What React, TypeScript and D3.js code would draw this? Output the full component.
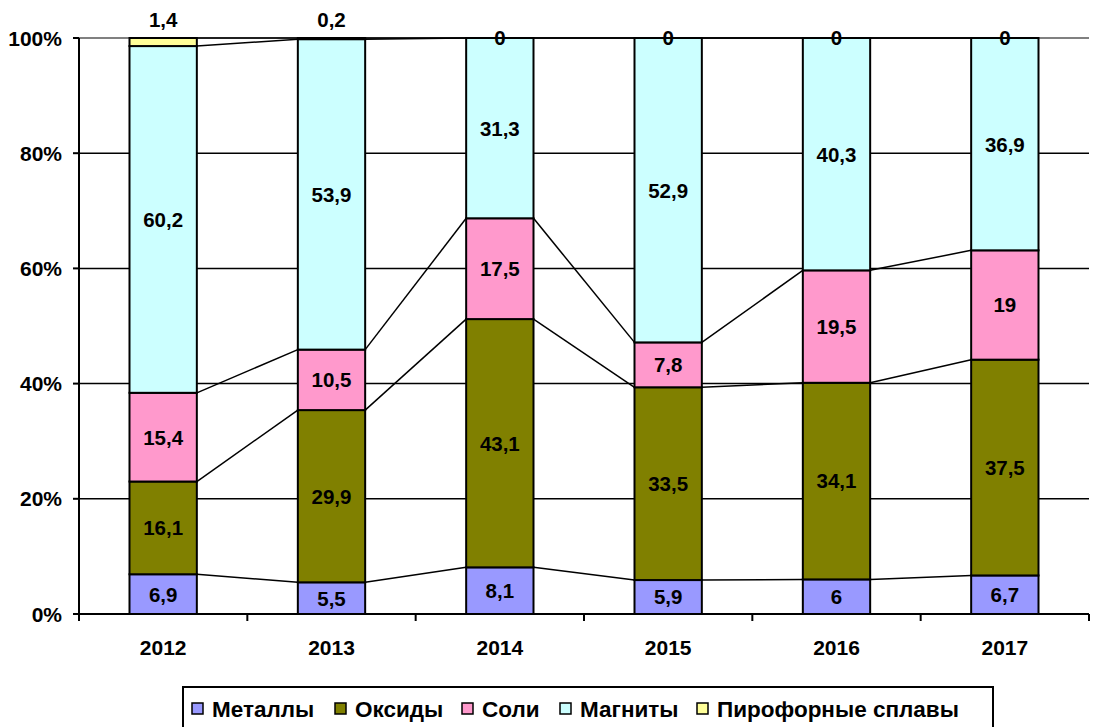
import * as d3 from "d3";

const years = ["2012", "2013", "2014", "2015", "2016", "2017"];
const seriesNames = ["Металлы", "Оксиды", "Соли", "Магниты", "Пирофорные сплавы"];
const colors = ["#9999FF", "#808000", "#FF99CC", "#CCFFFF", "#FFFF99"];
const metals = [6.9, 5.5, 8.1, 5.9, 6, 6.7];
const oxides = [16.1, 29.9, 43.1, 33.5, 34.1, 37.5];
const salts = [15.4, 10.5, 17.5, 7.8, 19.5, 19];
const magnets = [60.2, 53.9, 31.3, 52.9, 40.3, 36.9];
const pyro = [1.4, 0.2, 0, 0, 0, 0];
const yTicks = [0, 0.2, 0.4, 0.6, 0.8, 1];

const fmt = (v: number) => String(v).replace(".", ",");

export default function App() {
  const width = 1095;
  const height = 727;
  const left = 79;
  const right = 1089;
  const top = 38;
  const bottom = 614;

  const series = [metals, oxides, salts, magnets, pyro];

  // normalized stacks (100%)
  const stacks = years.map((_, i) => {
    const total = d3.sum(series, (s) => s[i]);
    let acc = 0;
    return series.map((s) => {
      const y0 = acc / total;
      acc += s[i];
      return { y0, y1: acc / total, v: s[i] };
    });
  });

  const x = d3.scaleBand().domain(years).range([left, right]).paddingInner(0.6).paddingOuter(0.3);
  const band = d3.scaleBand().domain(years).range([left, right]);
  const y = d3.scaleLinear().domain([0, 1]).range([bottom, top]);
  const bw = x.bandwidth();

  const font = "'Liberation Sans', Arial, sans-serif";

  // legend marker positions
  const legendX = [192, 335, 462, 560, 697];

  return (
    <svg width={width} height={height} style={{ position: "absolute", left: 0, top: 0 }} fontFamily={font}>
      <rect width={width} height={height} fill="#fff" />
      {/* gridlines */}
      {yTicks.map((t) => (
        <line
          key={t}
          x1={left}
          x2={right}
          y1={y(t)}
          y2={y(t)}
          stroke={t === 1 ? "#808080" : "#000"}
          strokeWidth={t === 1 ? 2 : 1.5}
        />
      ))}
      {/* series lines */}
      {years.slice(0, -1).map((yr, i) =>
        series.map((_, k) => (
          <line
            key={yr + k}
            x1={x(yr)! + bw}
            x2={x(years[i + 1])!}
            y1={y(stacks[i][k].y1)}
            y2={y(stacks[i + 1][k].y1)}
            stroke="#000"
            strokeWidth={1.5}
          />
        ))
      )}
      {/* bars */}
      {years.map((yr, i) =>
        stacks[i].map((s, k) =>
          s.v > 0 ? (
            <rect
              key={yr + k}
              x={x(yr)}
              y={y(s.y1)}
              width={bw}
              height={y(s.y0) - y(s.y1)}
              fill={colors[k]}
              stroke="#000"
              strokeWidth={2}
            />
          ) : null
        )
      )}
      {/* labels */}
      {years.map((yr, i) =>
        stacks[i].map((s, k) => {
          const cx = x(yr)! + bw / 2;
          let cy = y((s.y0 + s.y1) / 2);
          if (k === 4 && s.v > 0) cy = 20;
          return (
            <text
              key={yr + "l" + k}
              x={cx}
              y={cy}
              dy="0.36em"
              textAnchor="middle"
              fontSize={20.5}
              fontWeight="bold"
            >
              {fmt(s.v)}
            </text>
          );
        })
      )}
      {/* axes */}
      <line x1={left} x2={left} y1={top} y2={bottom} stroke="#000" strokeWidth={2} />
      <line x1={left} x2={right} y1={bottom} y2={bottom} stroke="#000" strokeWidth={2} />
      {yTicks.map((t) => (
        <g key={"yt" + t}>
          <line x1={left - 6} x2={left} y1={y(t)} y2={y(t)} stroke="#000" strokeWidth={2} />
          <text x={62} y={y(t)} dy="0.36em" textAnchor="end" fontSize={21} fontWeight="bold">
            {Math.round(t * 100)}%
          </text>
        </g>
      ))}
      {years.map((yr) => (
        <line
          key={"xt" + yr}
          x1={band(yr)! + band.bandwidth()}
          x2={band(yr)! + band.bandwidth()}
          y1={bottom}
          y2={bottom + 7}
          stroke="#000"
          strokeWidth={2}
        />
      ))}
      <line x1={left} x2={left} y1={bottom} y2={bottom + 7} stroke="#000" strokeWidth={2} />
      {years.map((yr) => (
        <text
          key={"xl" + yr}
          x={x(yr)! + bw / 2}
          y={647}
          dy="0.36em"
          textAnchor="middle"
          fontSize={21}
          fontWeight="bold"
        >
          {yr}
        </text>
      ))}
      {/* legend */}
      <rect x={183} y={687} width={810} height={50} fill="#fff" stroke="#000" strokeWidth={2} />
      {seriesNames.map((name, k) => (
        <g key={"lg" + k}>
          <rect x={legendX[k]} y={703} width={11} height={11} fill={colors[k]} stroke="#000" strokeWidth={1.5} />
          <text x={legendX[k] + 20} y={717} fontSize={22.5} fontWeight="bold">
            {name}
          </text>
        </g>
      ))}
    </svg>
  );
}
